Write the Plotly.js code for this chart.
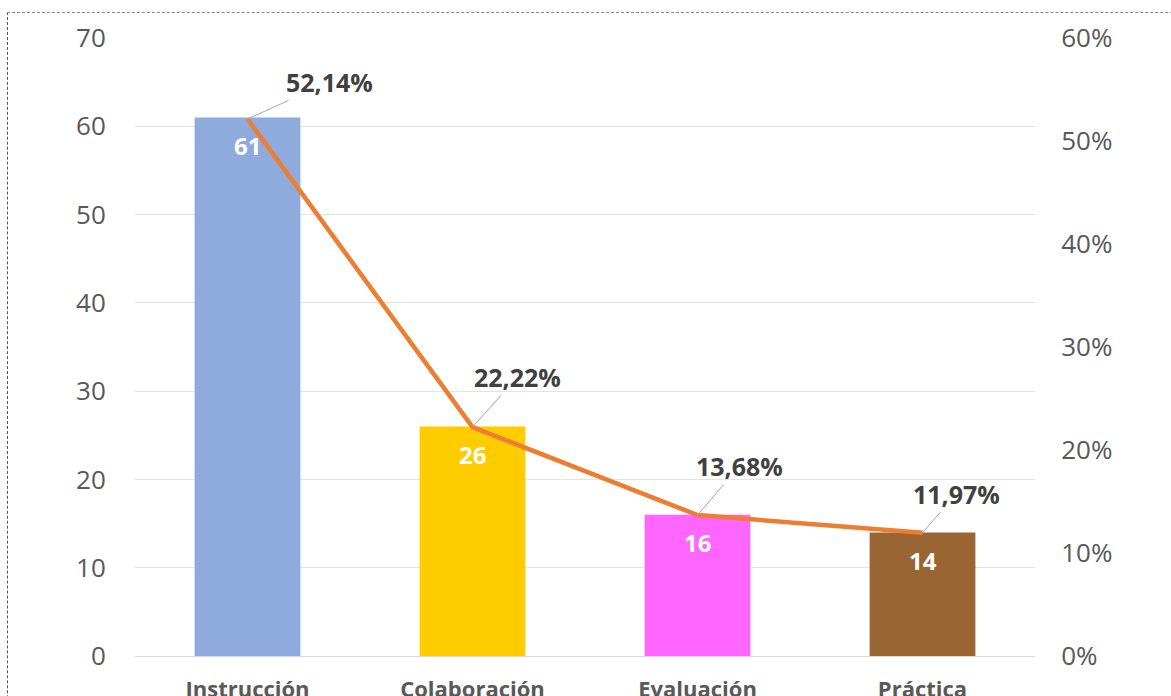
<!DOCTYPE html>
<html>
<head>
<meta charset="utf-8">
<script src="https://cdn.plot.ly/plotly-3.0.1.min.js"></script>
<style>
  html, body { margin: 0; padding: 0; background: #fff; overflow: hidden; }
  #wrap { position: relative; width: 1171px; height: 696px; }
  #chart { position: absolute; left: 0; top: 0; width: 1171px; height: 696px; }
  #frame {
    position: absolute; left: 7px; top: 12px; width: 1300px; height: 800px;
    border-left: 1px dashed #555; border-top: 1px dashed #888;
    pointer-events: none;
  }
</style>
</head>
<body>
<div id="wrap">
  <div id="chart"></div>
  <div id="frame"></div>
</div>
<script>
// Categories, counts and shares
const categories = ["Instrucción", "Colaboración", "Evaluación", "Práctica"];
const counts = [61, 26, 16, 14];
const shares = [52.14, 22.22, 13.68, 11.97];
const barColors = ["#8FAADC", "#FFCC00", "#FF66FF", "#996633"];
const shareLabels = ["52,14%", "22,22%", "13,68%", "11,97%"];
// leader-line offsets for the share labels (px)
const labelOffsets = [[82, -37], [45, -50], [42, -49], [34, -39]];

const FONT = "Open Sans, Noto Sans, sans-serif";

const bars = {
  type: "bar",
  x: categories,
  y: counts,
  marker: { color: barColors },
  width: 0.47,
  hoverinfo: "x+y",
  showlegend: false
};

const line = {
  type: "scatter",
  mode: "lines",
  x: categories,
  y: shares,
  yaxis: "y2",
  line: { color: "#ED7D31", width: 4.5 },
  showlegend: false
};

const annotations = [];
categories.forEach((c, i) => {
  // count label inside the top of each bar
  annotations.push({
    x: c, y: counts[i], xref: "x", yref: "y",
    text: String(counts[i]), showarrow: false,
    yanchor: "middle", yshift: -28,
    font: { family: FONT, size: 24, color: "#ffffff", weight: "bold" }
  });
  // share label with leader line
  annotations.push({
    x: c, y: shares[i], xref: "x", yref: "y2",
    text: "<b>" + shareLabels[i] + "</b>",
    showarrow: true, arrowhead: 0, arrowwidth: 1, arrowcolor: "#A6A6A6",
    ax: labelOffsets[i][0], ay: labelOffsets[i][1],
    standoff: 0, startstandoff: 0,
    font: { family: FONT, size: 25, color: "#404040" }
  });
});

const layout = {
  width: 1171,
  height: 696,
  margin: { l: 135, r: 136, t: 38, b: 40 },
  paper_bgcolor: "#ffffff",
  plot_bgcolor: "#ffffff",
  font: { family: FONT, color: "#595959" },
  bargap: 0.53,
  xaxis: {
    type: "category",
    showgrid: false,
    showline: true,
    linecolor: "#D9D9D9",
    linewidth: 1,
    ticks: "outside",
    ticklen: 14,
    tickcolor: "rgba(0,0,0,0)",
    tickfont: { family: FONT, size: 22, color: "#595959", weight: "bold" },
    fixedrange: true
  },
  yaxis: {
    range: [0, 70],
    dtick: 10,
    showgrid: true,
    gridcolor: "#E3E3E3",
    gridwidth: 1,
    zeroline: false,
    showline: false,
    ticks: "outside",
    ticklen: 23,
    tickcolor: "rgba(0,0,0,0)",
    tickfont: { family: FONT, size: 26, color: "#595959" }
  },
  yaxis2: {
    overlaying: "y",
    side: "right",
    range: [0, 60],
    dtick: 10,
    ticksuffix: "%",
    showgrid: false,
    zeroline: false,
    showline: false,
    ticks: "outside",
    ticklen: 20,
    tickcolor: "rgba(0,0,0,0)",
    tickfont: { family: FONT, size: 26, color: "#595959" }
  },
  annotations: annotations
};

Plotly.newPlot("chart", [bars, line], layout, { staticPlot: true, displayModeBar: false });
</script>
</body>
</html>
